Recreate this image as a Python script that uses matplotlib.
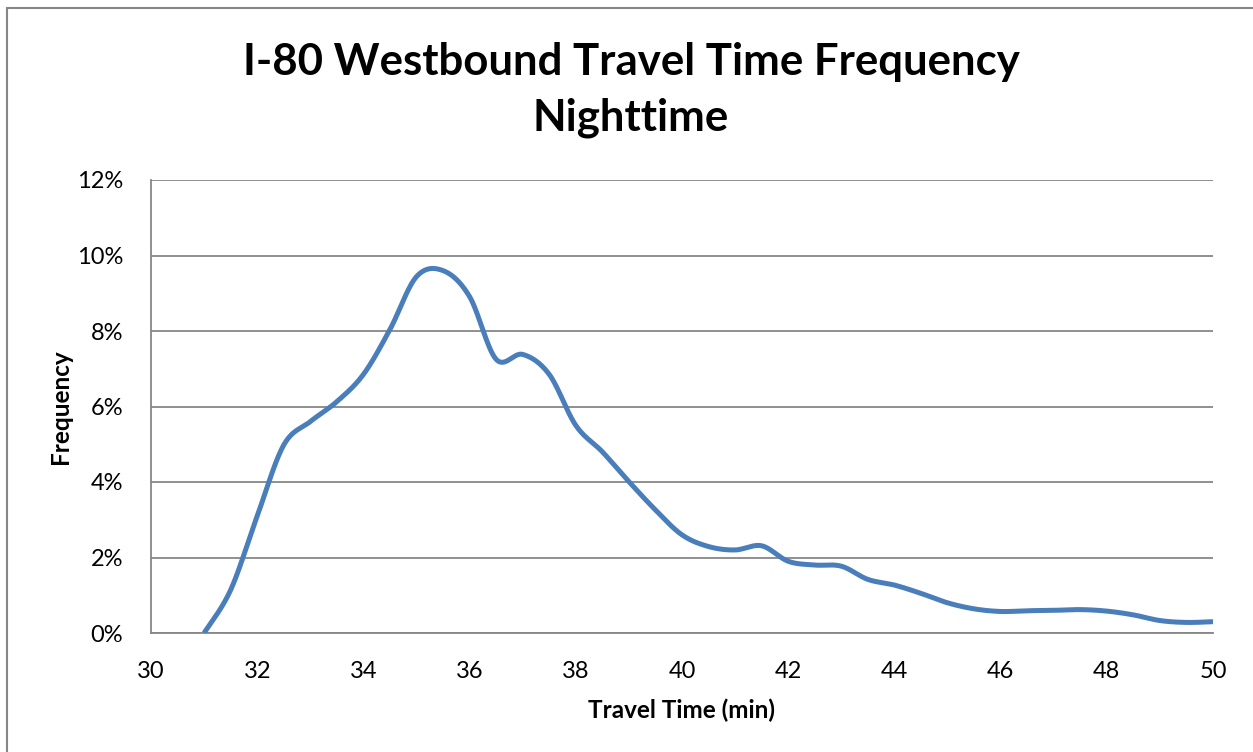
import numpy as np
import matplotlib.pyplot as plt
from matplotlib.patches import Rectangle
from matplotlib.ticker import FuncFormatter

# Travel time (min) and frequency (%)
travel_time = [31.0, 31.5, 32.0, 32.5, 33.0, 33.5, 34.0, 34.5, 35.0, 35.5,
               36.0, 36.5, 37.0, 37.5, 38.0, 38.5, 39.0, 39.5, 40.0, 40.5,
               41.0, 41.5, 42.0, 42.5, 43.0, 43.5, 44.0, 44.5, 45.0, 45.5,
               46.0, 46.5, 47.0, 47.5, 48.0, 48.5, 49.0, 49.5, 50.0]
frequency = [0.00, 1.14, 3.10, 4.98, 5.60, 6.13, 6.85, 8.04, 9.44, 9.60,
             8.91, 7.25, 7.38, 6.85, 5.50, 4.80, 4.01, 3.26, 2.60, 2.29,
             2.20, 2.31, 1.90, 1.80, 1.77, 1.42, 1.27, 1.05, 0.80, 0.64,
             0.57, 0.59, 0.60, 0.62, 0.58, 0.48, 0.33, 0.28, 0.30]

x_ticks = [30, 32, 34, 36, 38, 40, 42, 44, 46, 48, 50]
y_ticks = [0, 2, 4, 6, 8, 10, 12]


def smooth(x, y, n=30):
    # Excel-like smoothed line (Catmull-Rom through the points)
    p = np.column_stack([x, y])
    p = np.vstack([p[0], p, p[-1]])
    out = []
    for i in range(1, len(p) - 2):
        p0, p1, p2, p3 = p[i - 1], p[i], p[i + 1], p[i + 2]
        t = np.linspace(0, 1, n, endpoint=False)[:, None]
        seg = 0.5 * ((2 * p1) + (-p0 + p2) * t
                     + (2 * p0 - 5 * p1 + 4 * p2 - p3) * t ** 2
                     + (-p0 + 3 * p1 - 3 * p2 + p3) * t ** 3)
        out.append(seg)
    out.append(p[-2][None, :])
    out = np.vstack(out)
    return out[:, 0], out[:, 1]


plt.rcParams['font.family'] = ['Lato', 'DejaVu Sans']

fig = plt.figure(figsize=(12.53, 7.52), dpi=100)
ax = fig.add_axes([151 / 1253, 1 - 633 / 752, (1213 - 151) / 1253, (633 - 180) / 752])

# chart border (left and top visible)
fig.patches.append(Rectangle((7 / 1253, -0.05), 1.1, 1 - 8 / 752 + 0.05,
                             transform=fig.transFigure, fill=False,
                             edgecolor='#878787', linewidth=1.5))

sx, sy = smooth(travel_time, frequency)
ax.plot(sx, sy, color='#4A7EBB', linewidth=3.6, solid_capstyle='butt', zorder=3)

ax.set_xlim(30, 50)
ax.set_ylim(0, 12)
ax.set_xticks(x_ticks)
ax.set_yticks(y_ticks)
ax.yaxis.set_major_formatter(FuncFormatter(lambda v, _: f'{v:.0f}%'))
ax.tick_params(length=0, labelsize=17)
ax.tick_params(axis='y', pad=20)
ax.tick_params(axis='x', pad=20)

ax.grid(axis='y', color='#878787', linewidth=1.3)
ax.set_axisbelow(True)
for s in ['top', 'right']:
    ax.spines[s].set_visible(False)
for s in ['left', 'bottom']:
    ax.spines[s].set_color('#878787')
    ax.spines[s].set_linewidth(1.3)

fig.text(681 / 1253, 1 - 710 / 752, 'Travel Time (min)', ha='center', va='center',
         fontsize=17.5, fontweight='bold')
fig.text(60 / 1253, 1 - 407 / 752, 'Frequency', ha='center', va='center',
         rotation=90, fontsize=17.5, fontweight='bold')
fig.text(631 / 1253, 1 - 90 / 752, 'I-80 Westbound Travel Time Frequency\nNighttime',
         ha='center', va='center', fontsize=31.5, fontweight='bold', linespacing=1.5)

fig.savefig('out.png', dpi=100)
